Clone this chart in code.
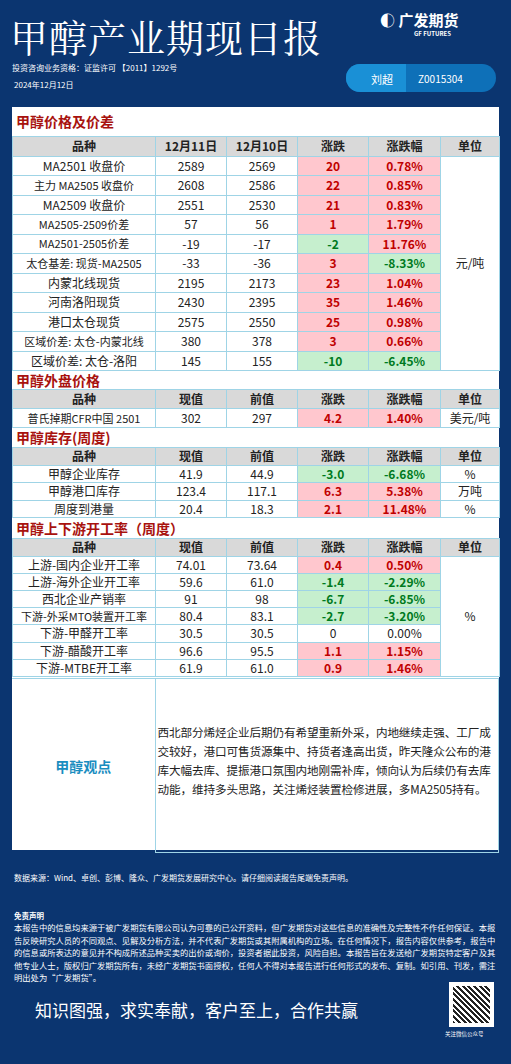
<!DOCTYPE html>
<html><head><meta charset="utf-8">
<script src="https://cdn.jsdelivr.net/npm/chart.js@4"></script>
<style>
body{margin:0;background:#0b3570;width:511px;height:1064px;overflow:hidden;font-family:"Noto Sans CJK SC","Noto Sans",sans-serif;position:relative;color:#222}
.abs{position:absolute}
#panel{left:12px;top:107px;width:487px;height:743px;background:#fff}
table{border-collapse:collapse;table-layout:fixed;width:487px;font-size:12px}
td{border:1px solid #9fd4e6;text-align:center;padding:0;white-space:nowrap;overflow:hidden;line-height:1}
tr.h td{background:#d9d9d9;font-weight:bold}
.sec{color:#a8120e;font-weight:bold;font-size:14px;padding-left:4px}
.up{background:#ffc7ce;color:#c00000;font-weight:bold}
.dn{background:#c6efce;color:#007a1e;font-weight:bold}
</style></head><body>
<div class="abs" style="left:10px;top:8px;color:#fff;font-family:'Noto Serif CJK SC','Noto Sans CJK SC',serif;font-size:38px;letter-spacing:1px">甲醇产业期现日报</div>
<div class="abs" style="left:380px;top:11px;color:#fff;font-weight:bold;font-size:15px;line-height:18px">◐ 广发期货</div>
<div class="abs" style="left:414px;top:30px;color:#fff;font-size:6px;font-weight:bold;line-height:7px">GF FUTURES</div>
<div class="abs" style="left:12px;top:62px;color:#fff;font-size:8px">投资咨询业务资格：证监许可 【2011】1292号</div>
<div class="abs" style="left:14px;top:79px;color:#fff;font-size:8px">2024年12月12日</div>
<div class="abs" style="left:346px;top:64px;width:150px;height:28px;border-radius:14px;background:#0e70b8;overflow:hidden">
 <div class="abs" style="left:0;top:0;width:60px;height:28px;background:#1a90d6"></div>
 <div class="abs" style="left:25px;top:7px;color:#fff;font-size:11px">刘超</div>
 <div class="abs" style="left:72px;top:7px;color:#fff;font-size:10px">Z0015304</div>
</div>
<div id="panel" class="abs"></div>
<div class="abs" style="left:14px;top:872px;color:#fff;font-size:8px">数据来源：Wind、卓创、彭博、隆众、广发期货发展研究中心。请仔细阅读报告尾端免责声明。</div>
<div class="abs" style="left:14px;top:910px;color:#fff;font-size:7.5px;font-weight:bold">免责声明</div>
<div class="abs" style="left:14px;top:921px;width:484px;color:#fff;font-size:8.3px;line-height:12.6px">本报告中的信息均来源于被广发期货有限公司认为可靠的已公开资料，但广发期货对这些信息的准确性及完整性不作任何保证。本报告反映研究人员的不同观点、见解及分析方法，并不代表广发期货或其附属机构的立场。在任何情况下，报告内容仅供参考，报告中的信息或所表达的意见并不构成所述品种买卖的出价或询价，投资者据此投资，风险自担。本报告旨在发送给广发期货特定客户及其他专业人士，版权归广发期货所有，未经广发期货书面授权，任何人不得对本报告进行任何形式的发布、复制。如引用、刊发，需注明出处为“广发期货”。</div>
<div class="abs" style="left:35px;top:997px;color:#fff;font-size:17px">知识图强，求实奉献，客户至上，合作共赢</div>
<div class="abs" style="left:449px;top:982px;width:45px;height:45px;background:#fff"><div style="margin:4px;width:37px;height:37px;background:repeating-linear-gradient(45deg,#222 0 2px,#fff 2px 4px)"></div></div>
<div class="abs" style="left:445px;top:1030px;color:#fff;font-size:5.5px">关注微信公众号</div>
<script>
// 价格及价差
const priceNames = ['MA2501 收盘价','主力 MA2505 收盘价','MA2509 收盘价','MA2505-2509价差','MA2501-2505价差','太仓基差: 现货-MA2505','内蒙北线现货','河南洛阳现货','港口太仓现货','区域价差: 太仓-内蒙北线','区域价差: 太仓-洛阳'];
const priceCur = [2589,2608,2551,57,-19,-33,2195,2430,2575,380,145];
const pricePrev = [2569,2586,2530,56,-17,-36,2173,2395,2550,378,155];
const priceChg = ['20','22','21','1','-2','3','23','35','25','3','-10'];
const pricePct = ['0.78%','0.85%','0.83%','1.79%','11.76%','-8.33%','1.04%','1.46%','0.98%','0.66%','-6.45%'];
// 外盘
const extNames = ['普氏掉期CFR中国 2501'];
const extCur = [302], extPrev = [297], extChg = ['4.2'], extPct = ['1.40%'];
// 库存
const stockNames = ['甲醇企业库存','甲醇港口库存','周度到港量'];
const stockCur = ['41.9','123.4','20.4'], stockPrev = ['44.9','117.1','18.3'];
const stockChg = ['-3.0','6.3','2.1'], stockPct = ['-6.68%','5.38%','11.48%'];
const stockUnits = ['%','万吨','%'];
// 开工率
const rateNames = ['上游-国内企业开工率','上游-海外企业开工率','西北企业产销率','下游-外采MTO装置开工率','下游-甲醛开工率','下游-醋酸开工率','下游-MTBE开工率'];
const rateCur = ['74.01','59.6','91','80.4','30.5','96.6','61.9'];
const ratePrev = ['73.64','61.0','98','83.1','30.5','95.5','61.0'];
const rateChg = ['0.4','-1.4','-6.7','-2.7','0','1.1','0.9'];
const ratePct = ['0.50%','-2.29%','-6.85%','-3.20%','0.00%','1.15%','1.46%'];
const viewText = '西北部分烯烃企业后期仍有希望重新外采，内地继续走强、工厂成交较好，港口可售货源集中、持货者逢高出货，昨天隆众公布的港库大幅去库、提振港口氛围内地刚需补库，倾向认为后续仍有去库动能，维持多头思路，关注烯烃装置检修进展，多MA2505持有。';

function cls(v){ v=String(v); if(v.startsWith('-')) return 'dn'; if(parseFloat(v)===0) return ''; return 'up'; }
function section(title, h, rh, head, names, a, b, c, d, units, unitMerged){
  let s = `<div class="sec" style="height:${h}px;line-height:${h}px">${title}</div><table><colgroup><col style="width:143px"><col style="width:71px"><col style="width:71px"><col style="width:71px"><col style="width:72px"><col style="width:59px"></colgroup>`;
  s += `<tr class="h" style="height:${rh}px">` + head.map(x=>`<td>${x}</td>`).join('') + '</tr>';
  names.forEach((n,i)=>{
    s += `<tr style="height:${rh}px"><td${n.length>11?' style="font-size:11px"':''}>${n}</td><td>${a[i]}</td><td>${b[i]}</td><td class="${cls(c[i])}">${c[i]}</td><td class="${cls(d[i])}">${d[i]}</td>`;
    if(unitMerged){ if(i===0) s += `<td rowspan="${names.length}">${units}</td>`; }
    else s += `<td>${units[i]}</td>`;
    s += '</tr>';
  });
  return s + '</table>';
}
let html = '';
html += section('甲醇价格及价差',29,19.5,['品种','12月11日','12月10日','涨跌','涨跌幅','单位'],priceNames,priceCur,pricePrev,priceChg,pricePct,'元/吨',true);
html += section('甲醇外盘价格',18,19,['品种','现值','前值','涨跌','涨跌幅','单位'],extNames,extCur,extPrev,extChg,extPct,['美元/吨'],false);
html += section('甲醇库存(周度)',19,17.6,['品种','现值','前值','涨跌','涨跌幅','单位'],stockNames,stockCur,stockPrev,stockChg,stockPct,stockUnits,false);
html += section('甲醇上下游开工率（周度）',20,17.2,['品种','现值','前值','涨跌','涨跌幅','单位'],rateNames,rateCur,ratePrev,rateChg,ratePct,'%',true);
html += `<table style="margin-top:1px"><colgroup><col style="width:143px"><col></colgroup><tr style="height:174px"><td style="color:#1a8dbf;font-weight:bold;font-size:14px;border-left:none;border-bottom:none">甲醇观点</td><td style="white-space:normal;text-align:left;font-size:11.6px;line-height:19px;padding:0 2px 8px 2px;letter-spacing:-0.1px">${viewText}</td></tr></table>`;
document.getElementById('panel').innerHTML = html;
</script>
</body></html>
